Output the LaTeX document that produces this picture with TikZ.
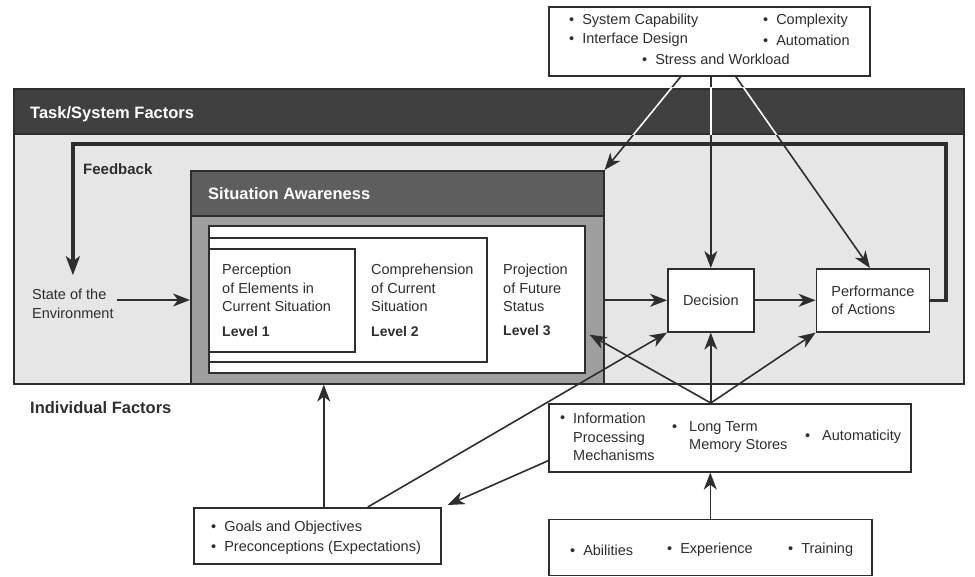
\documentclass[tikz,border=0pt]{standalone}
\usepackage{fontspec}
\setmainfont{Liberation Sans}
\usetikzlibrary{arrows.meta,calc,positioning}
\definecolor{Ink}{HTML}{2E2E2E}
\definecolor{TaskDark}{HTML}{404040}
\definecolor{Panel}{HTML}{E6E6E6}
\definecolor{SADark}{HTML}{5E5E5E}
\definecolor{SAMid}{HTML}{9E9E9E}
\newcommand{\bul}{\textbullet\hspace{0.55em}}

\begin{document}
\begin{tikzpicture}[x=1pt,y=-1pt,
    box/.style={draw=Ink,line width=1.6pt,fill=white,anchor=north west,inner sep=0pt},
    card/.style={box,align=left,text=Ink,font=\fontsize{14.5}{18.5}\selectfont},
    txt/.style={anchor=west,align=left,text=Ink,inner sep=0pt,
      font=\fontsize{14.5}{18.5}\selectfont},
    head/.style={anchor=west,text=white,inner sep=0pt,font=\fontsize{16.5}{20}\selectfont\bfseries},
    lvl/.style={txt,font=\fontsize{14}{18}\selectfont\bfseries},
    link/.style={-{Stealth[length=17pt,width=13pt,inset=5pt]},draw=Ink,line width=1.6pt},
    feed/.style={-{Stealth[length=19pt,width=14pt,inset=5pt]},draw=Ink,line width=3.5pt}]
  \useasboundingbox (0,0) rectangle (975,577);
  % task / system panel
  \node[box,fill=Panel,minimum width=950pt,minimum height=295pt] (task) at (13,88) {};
  \node[box,fill=TaskDark,minimum width=950pt,minimum height=45pt] (taskhd) at (task.north west) {};
  \node[head] (tasklbl) at (30,114) {Task/System Factors};
  \node[head,text=Ink,font=\fontsize{15}{18}\selectfont\bfseries] (fblbl) at (83,169) {Feedback};
  % situation awareness
  \node[box,fill=SAMid,minimum width=413pt,minimum height=213pt] (sa) at (190,170) {};
  \node[box,fill=SADark,minimum width=413pt,minimum height=45pt] (sahd) at (sa.north west) {};
  \node[head] (salbl) at (208,194) {Situation Awareness};
  \node[box,minimum width=376pt,minimum height=147pt] (inner) at (208,225) {};
  \node[box,minimum width=278pt,minimum height=124pt] (lvlbox2) at ($(inner.north west)+(0,12)$) {};
  \node[box,minimum width=146pt,minimum height=103pt] (lvlbox1) at ($(lvlbox2.north west)+(0,11)$) {};
  \node[txt] (perc) at (222,288) {Perception\\of Elements in\\Current Situation};
  \node[lvl] (lvl1) at (222,331) {Level 1};
  \node[txt] (comp) at (371,288) {Comprehension\\of Current\\Situation};
  \node[lvl] (lvl2) at (371,331) {Level 2};
  \node[txt] (proj) at (503,288) {Projection\\of Future\\Status};
  \node[lvl] (lvl3) at (503,331) {Level 3};
  % environment, decision, actions
  \node[txt] (env) at (32,304) {State of the\\Environment};
  \node[card,align=center,minimum width=86pt,minimum height=63pt] (dec) at (667,268) {Decision};
  \node[card,minimum width=113pt,minimum height=63pt,right=61pt of dec] (perf) {Performance\\of Actions};
  \draw[link] ([xshift=3pt,yshift=4pt]env.east) -- ([yshift=4pt]env.east -| sa.west);
  \draw[link] (dec.west -| sa.east) -- (dec.west);
  \draw[link] (dec) -- (perf);
  \coordinate (fbcorner) at (946,144);
  \draw[feed] (perf.east) -| (fbcorner) -| ([yshift=14pt]env.north);
  % task / system factors box
  \node[box,minimum width=321pt,minimum height=69pt] (sysf) at (548,6) {};
  \node[txt] (cap) at (569,21) {\bul System Capability};
  \node[txt] (cplx) at (763,21) {\bul Complexity};
  \node[txt] (iface) at (569,40) {\bul Interface Design};
  \node[txt] (auto) at (763,40) {\bul Automation};
  \node[txt] (stress) at (642,59) {\bul Stress and Workload};
  \draw[link] ([xshift=-28.5pt]sysf.south) -- (sa.north east);
  \draw[link] (dec.north |- sysf.south) -- (dec.north);
  \draw[link] ([xshift=26.5pt]sysf.south) -- ([xshift=-3pt]perf.north);
  \begin{scope}
    \clip (taskhd.north west) rectangle (taskhd.south east);
    \draw[white,line width=1.6pt] ([xshift=-28.5pt]sysf.south) -- (sa.north east);
    \draw[white,line width=1.6pt] (dec.north |- sysf.south) -- (dec.north);
    \draw[white,line width=1.6pt] ([xshift=26.5pt]sysf.south) -- ([xshift=-3pt]perf.north);
  \end{scope}
  % individual factors
  \node[head,text=Ink] (indlbl) at (30,408) {Individual Factors};
  \node[box,minimum width=362pt,minimum height=68pt] (info) at (548,403) {};
  \node[txt] (infobul) at (560,419) {\textbullet};
  \node[txt] (infoproc) at (573,437) {Information\\Processing\\Mechanisms};
  \node[txt] (ltmbul) at (672,428) {\textbullet};
  \node[txt] (ltm) at (689,437) {Long Term\\Memory Stores};
  \node[txt] (autobul) at (805,437) {\textbullet};
  \node[txt] (automat) at (822,437) {Automaticity};
  \node[box,minimum width=323pt,minimum height=56pt,below right=46pt and 0pt of info.south west] (abil) {};
  \node[txt] (abl) at (570,550) {\bul Abilities};
  \node[txt] (exper) at (667,550) {\bul Experience};
  \node[txt] (train) at (788,550) {\bul Training};
  \node[box,minimum width=247pt,minimum height=56pt] (goals) at (193,507) {};
  \node[txt] (goal) at (211,528) {\bul Goals and Objectives};
  \node[txt] (precon) at (211,548) {\bul Preconceptions (Expectations)};
  \coordinate (hub) at (dec.south |- info.north);
  \coordinate (projin) at ($(inner.south east)+(4,-39)$);
  \draw[link] (abil.north) -- (abil.north |- info.south);
  \draw[link] (hub) -- (dec.south);
  \draw[link] (hub) -- (perf.south west);
  \draw[link] (hub) -- (projin);
  \draw[link] ([yshift=-23pt]info.west) -- ([xshift=6pt,yshift=2pt]goals.north east);
  \draw[link] ([xshift=6.5pt]goals.north) -- ([xshift=6.5pt]goals.north |- sa.south);
  \draw[link] ([xshift=50.5pt]goals.north) -- (dec.south west);
\end{tikzpicture}
\end{document}
